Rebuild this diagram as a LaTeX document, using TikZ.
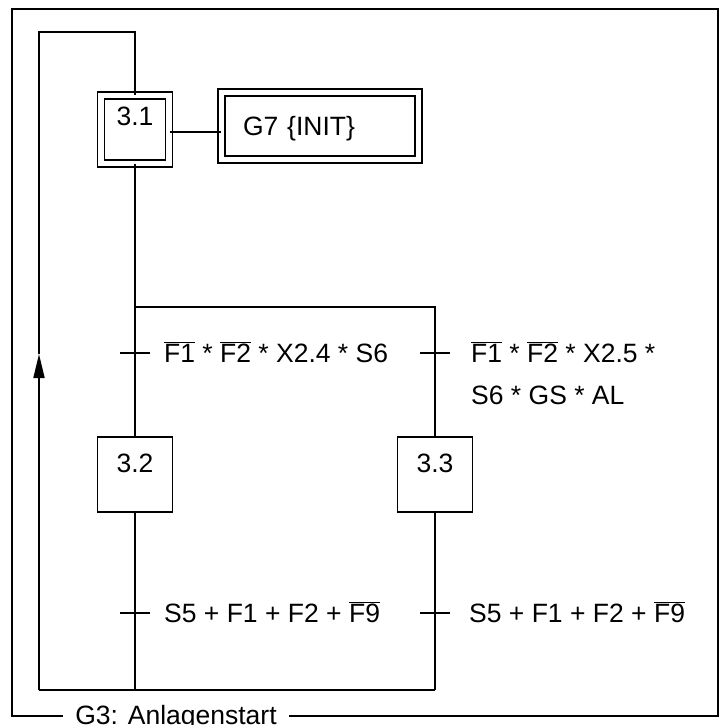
\documentclass[tikz,border=0pt]{standalone}
\usepackage{fontspec}
\setmainfont{Liberation Sans}
\usetikzlibrary{arrows.meta, positioning}
\tikzstyle{initstep} = [rectangle, draw=black, line width=1.7pt, double, double distance=5.3pt, minimum width=68pt, inner sep=0pt, text height=29.5pt, text depth=38.5pt]
\tikzstyle{stepbox} = [rectangle, draw=black, line width=1.7pt, minimum width=75pt, inner sep=0pt, text height=35pt, text depth=40pt]
\tikzstyle{action} = [rectangle, draw=black, line width=1.7pt, double, double distance=5.3pt, text width=154pt, inner xsep=21.5pt, inner ysep=0pt, minimum height=67pt, align=left, text height=18pt, text depth=0pt]
\tikzstyle{cond} = [anchor=base west, inner sep=0pt, align=left]
\tikzstyle{wire} = [line width=1.7pt]
\tikzstyle{arrow} = [wire, -{Triangle[length=24pt, width=11pt]}]
\newcommand{\nicht}[1]{$\overline{\mbox{#1}}$}

\begin{document}
\begin{tikzpicture}[x=1pt, y=-1pt, every node/.append style={font=\fontsize{26.5}{42}\selectfont}]
\useasboundingbox (0,0) rectangle (725,725);

% Schritte
\node (s31) [initstep] at (135,129.5) {3.1};
\node (act31) [action] at (320,126) {G7 \{INIT\}};
\node (s32) [stepbox] at (135,474.5) {3.2};
\node (s33) [stepbox] at (435,474.5) {3.3};

\coordinate (div) at (135,307);
\coordinate (divr) at (435,307);
\coordinate (join) at (135,690);
\coordinate (joinr) at (435,690);
\coordinate (retl) at (39,690);
\coordinate (arrtip) at (39,354);
\coordinate (rett) at (39,32);
\coordinate (rettr) at (135,32);
\coordinate (t1) at (135,353);
\coordinate (t2) at (435,353);
\coordinate (t3) at (135,613);
\coordinate (t4) at (435,613);

% Transitionen
\node (c1) [cond] at (164,362) {\nicht{F1} * \nicht{F2} * X2.4 * S6};
\node (c2) [cond] at (471,404) {\nicht{F1} * \nicht{F2} * X2.5 *\\S6 * GS * AL};
\node (c3) [cond] at (164,622) {S5 + F1 + F2 + \nicht{F9}};
\node (c4) [cond] at (469,622) {S5 + F1 + F2 + \nicht{F9}};

%% Verbindungen nach den Schritten
\draw [wire] ([yshift=-2.5pt]s31.east) -- ([yshift=-2.5pt]act31.west |- s31.east);
\draw [wire] (s31.south) -- (div) -- (s32.north);
\draw [wire] (div) -- (divr) -- (s33.north);
\draw [wire] (s32.south) -- (join);
\draw [wire] (s33.south) -- (joinr);
\draw [wire] (retl) -- (joinr);
\draw [arrow] (retl) -- (arrtip);
\draw [wire] (arrtip) -- (rett) -- (rettr) -- (s31.north);
\foreach \t in {t1,t2,t3,t4}
  \draw [wire] ([xshift=-15pt]\t) -- ([xshift=15pt]\t);

% Rahmen
\draw [wire] (12,9) rectangle (718,716);
\node (title) [fill=white, inner xsep=12pt, inner ysep=0pt, text height=18.6pt, text depth=0pt] at (176,715) {G3: Anlagenstart};

\end{tikzpicture}
\end{document}
